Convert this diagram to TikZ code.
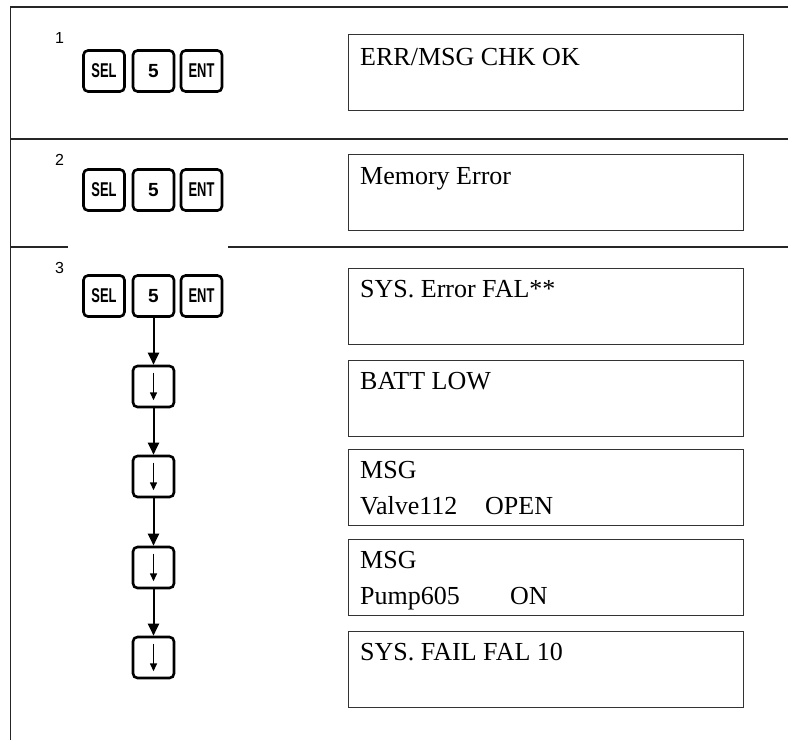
\documentclass[tikz,border=0pt]{standalone}
\usepackage{fontspec}
\usepackage{graphicx}
\setmainfont{Liberation Serif}
\newfontfamily\keyfont{Liberation Sans}
\usetikzlibrary{arrows.meta,calc}
\tikzset{
  keybox/.style={draw=black, line width=2.6pt, rounded corners=4.5pt, minimum width=41pt, minimum height=41pt, inner sep=0pt, font=\keyfont\bfseries\fontsize{19}{19}\selectfont},
  disp/.style={draw=black!80, line width=1.3pt, minimum width=395pt, minimum height=76pt, inner sep=0pt, anchor=north west},
  disptext/.style={anchor=base west, inner sep=0pt, font=\fontsize{26}{36}\selectfont},
  frame/.style={draw=black!85, line width=1.4pt},
  steplabel/.style={anchor=base west, inner sep=0pt, font=\keyfont\fontsize{16}{16}\selectfont},
  flow/.style={line width=2pt, -{Triangle[length=12pt,width=11pt]}},
  inarrow/.style={line width=1.4pt, -{Triangle[length=8pt,width=7pt]}}
}
\newcommand{\narrow}[1]{\scalebox{0.68}[1.05]{#1}}
\begin{document}
\begin{tikzpicture}[x=1pt,y=-1pt]
\useasboundingbox (0,0) rectangle (788,740);
% frame
\coordinate (tl) at (10.5,7);
\coordinate (tr) at (788,7);
\coordinate (bl) at (10.5,740);
\coordinate (s1l) at (10.5,139);
\coordinate (s1r) at (788,139);
\coordinate (s2l) at (10.5,247);
\coordinate (s2m) at (68,247);
\coordinate (s2n) at (228,247);
\coordinate (s2r) at (788,247);
\draw[frame] (tr) -- (tl) -- (bl);
\draw[frame] (s1l) -- (s1r);
\draw[frame] (s2l) -- (s2m);
\draw[frame] (s2n) -- (s2r);

% step labels
\node[steplabel] (n1) at (55,43) {1};
\node[steplabel] (n2) at (55,165) {2};
\node[steplabel] (n3) at (55,273) {3};

% row 1 keys
\node[keybox] (sel1) at (104,71) {\narrow{SEL}};
\node[keybox] (five1) at (153.5,71) {5};
\node[keybox] (ent1) at (201.5,71) {\narrow{ENT}};
% row 2 keys
\node[keybox] (sel2) at (104,190) {\narrow{SEL}};
\node[keybox] (five2) at (153.5,190) {5};
\node[keybox] (ent2) at (201.5,190) {\narrow{ENT}};
% row 3 keys
\node[keybox] (sel3) at (104,296) {\narrow{SEL}};
\node[keybox] (five3) at (153.5,296) {5};
\node[keybox] (ent3) at (201.5,296) {\narrow{ENT}};
% down keys
\foreach \i/\y in {1/386.5,2/476.5,3/567.5,4/657.5}{
  \node[keybox] (dn\i) at (153.5,\y) {};
  \draw[inarrow] ($(dn\i.north)+(0,8)$) -- ($(dn\i.south)+(0,-8)$);
}
\draw[flow] (five3) -- (dn1);
\draw[flow] (dn1) -- (dn2);
\draw[flow] (dn2) -- (dn3);
\draw[flow] (dn3) -- (dn4);

% displays
\node[disp] (d1) at (348,34) {};
\node[disp] (d2) at (348,154) {};
\node[disp] (d3) at (348,268) {};
\node[disp] (d4) at (348,360) {};
\node[disp] (d5) at (348,449) {};
\node[disp] (d6) at (348,539) {};
\node[disp] (d7) at (348,631) {};

\node[disptext] (t1) at ($(d1.north west)+(12,31)$) {ERR/MSG CHK OK};
\node[disptext] (t2) at ($(d2.north west)+(12,30)$) {Memory Error};
\node[disptext] (t3) at ($(d3.north west)+(12,29)$) {SYS. Error FAL**};
\node[disptext] (t4) at ($(d4.north west)+(12,29)$) {BATT LOW};
\node[disptext] (t5a) at ($(d5.north west)+(12,29)$) {MSG};
\node[disptext] (t5b) at ($(d5.north west)+(12,65)$) {\makebox[125pt][l]{Valve112}OPEN};
\node[disptext] (t6a) at ($(d6.north west)+(12,29)$) {MSG};
\node[disptext] (t6b) at ($(d6.north west)+(12,65)$) {\makebox[150pt][l]{Pump605}ON};
\node[disptext] (t7) at ($(d7.north west)+(12,29)$) {SYS. FAIL FAL 10};
\end{tikzpicture}
\end{document}
